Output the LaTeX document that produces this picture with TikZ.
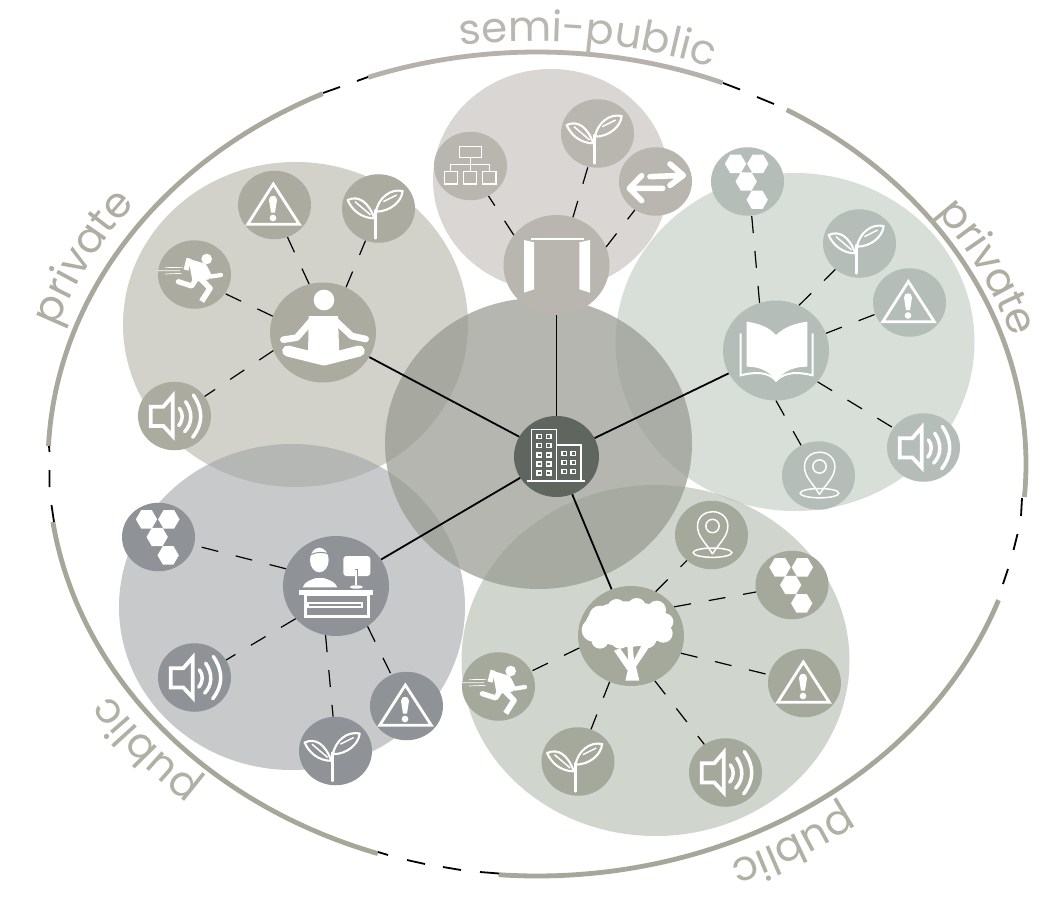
\documentclass[tikz,border=0pt]{standalone}
\usepackage{fontspec}
\usetikzlibrary{shapes.geometric,decorations.text}
\setmainfont{Poppins}
\newfontfamily\lblfont{Poppins}
\definecolor{tlc}{HTML}{ABAB9F}
\definecolor{topc}{HTML}{B9B5AF}
\definecolor{rc}{HTML}{B4BDB7}
\definecolor{blc}{HTML}{8F9296}
\definecolor{brc}{HTML}{A5A99B}
\definecolor{hubc}{HTML}{5F665F}
\definecolor{bigtl}{HTML}{B4B4A7}
\definecolor{bigtop}{HTML}{C0BCB6}
\definecolor{bigr}{HTML}{BECAC1}
\definecolor{bigbl}{HTML}{A3A6A8}
\definecolor{bigbr}{HTML}{B1B9AD}
\definecolor{bigc}{HTML}{96988F}
\definecolor{arcA}{HTML}{A8A89C}
\definecolor{arcB}{HTML}{B6B2AB}
\definecolor{arcC}{HTML}{A9A99E}
\definecolor{arcD}{HTML}{A3A898}
\definecolor{lblA}{HTML}{AEAEA3}
\definecolor{lblB}{HTML}{BAB7B0}
\definecolor{lblD}{HTML}{AEB2A4}
\newcommand{\outerarc}[3]{\draw[outerline,#3] plot[domain=#1:#2,samples=90] ({537+489*cos(\x)},{464+412*sin(\x)});}
\newcommand{\curvedlabel}[6]{\path[postaction={decorate},decoration={text along path,text align={left},text={|\lblfont\fontsize{42}{42}\selectfont\color{#6}|#5}}] plot[domain=#1:#2,samples=90] ({537+#3*cos(\x)},{464+#4*sin(\x)});}
\tikzset{
  bigdisc/.style={ellipse,inner sep=0pt,opacity=.6,draw=none},
  leaf/.style={ellipse,inner sep=0pt,minimum width=73pt,minimum height=68.5pt,draw=none},
  hub/.style={ellipse,inner sep=0pt,minimum width=106pt,minimum height=100pt,draw=none},
  outerline/.style={line width=4.8pt,line cap=butt},
  blackdash/.style={black,line width=1.8pt},
  solidlink/.style={black,line width=1.8pt},
  dashlink/.style={black,line width=1.2pt,dash pattern=on 17pt off 18pt},
  warnicon/.pic={\begin{scope}[x=.3333pt,y=-.3333pt,shift={(-463.5,-135)}]
    \draw[white,line width=2.8pt] (460,72)--(538,193)--(383,193)--cycle;
    \fill[white] (447,120) .. controls (447,103) and (471,103) .. (471,120) -- (465,158) -- (453,158) -- cycle;
    \fill[white] (459,174) circle [radius=10];
  \end{scope}},
  planticon/.pic={\begin{scope}[x=.3333pt,y=-.3333pt,shift={(-775.5,-145.5)}]
    \draw[white,line width=2.7pt,line cap=round] (767,235)--(767,150);
    \draw[white,line width=2.1pt,line join=round] (763,175) .. controls (745,125) and (715,105) .. (683,120) .. controls (695,150) and (725,175) .. (763,175);
    \draw[white,line width=2.1pt,line join=round] (768,155) .. controls (775,115) and (810,85) .. (848,93) .. controls (845,125) and (810,155) .. (768,155);
    \draw[white,line width=1.5pt] (705,125)--(752,165) (790,125)--(830,105);
  \end{scope}},
  speakericon/.pic={\begin{scope}[x=.3333pt,y=-.3333pt,shift={(-163.5,-768)}]
    \draw[white,line width=3.8pt,line join=miter] (92,740)--(130,740)--(158,708)--(158,828)--(130,798)--(92,798)--cycle;
    \draw[white,line width=3.5pt,line cap=round] (178,745) .. controls (190,760) and (190,780) .. (176,797);
    \draw[white,line width=3.5pt,line cap=round] (197,725) .. controls (218,755) and (218,790) .. (194,815);
    \draw[white,line width=3.5pt,line cap=round] (220,705) .. controls (250,750) and (250,790) .. (218,832);
  \end{scope}},
  runnericon/.pic={\begin{scope}[x=.3333pt,y=-.3333pt,shift={(-223.5,-343.5)}]
    \fill[white] (260,297) circle [radius=16];
    \fill[white] (205,296)--(258,312)--(268,358)--(218,366)--cycle;
    \draw[white,line width=5pt,line join=round] (207,295)--(198,330);
    \draw[white,line width=4.2pt,line join=round,line cap=round] (256,322)--(270,350)--(303,345);
    \draw[white,line width=5.6pt,line join=round] (238,352)--(270,385)--(245,424);
    \draw[white,line width=5.2pt,line join=round,line cap=round] (230,355)--(215,378)--(175,365);
    \draw[white,line width=.7pt] (135,323)--(188,322) (112,332)--(180,332) (135,342)--(185,340);
  \end{scope}},
  hexicon/.pic={\begin{scope}[x=.3333pt,y=-.3333pt]
    \foreach \cx/\cy in {-36/-53,31/-53,-4/0,29/55}
      \fill[white] ({\cx+32},\cy)--({\cx+16},{\cy+27.5})--({\cx-16},{\cy+27.5})--({\cx-32},\cy)--({\cx-16},{\cy-27.5})--({\cx+16},{\cy-27.5})--cycle;
  \end{scope}},
  pinicon/.pic={\begin{scope}[x=.3333pt,y=-.3333pt,shift={(-754,-405)}]
    \draw[white,line width=1.5pt] (757,462) .. controls (735,425) and (712,410) .. (712,378) .. controls (712,350) and (735,335) .. (757,335) .. controls (780,335) and (803,350) .. (803,378) .. controls (803,410) and (780,425) .. (757,462);
    \draw[white,line width=1.5pt] (757,378) circle [radius=20];
    \draw[white,line width=1.5pt] (757,458) ellipse [x radius=58,y radius=14];
  \end{scope}},
  orgicon/.pic={\begin{scope}[x=.3333pt,y=-.3333pt,shift={(-151.5,-498)}]
    \draw[white,line width=1.2pt] (118,440) rectangle (185,472) (151,472)--(151,515) (92,515)--(92,493)--(208,493)--(208,515)
      (73,515) rectangle (112,552) (130,515) rectangle (170,552) (188,515) rectangle (228,552);
  \end{scope}},
  arrowicon/.pic={\begin{scope}[x=.3333pt,y=-.3333pt,shift={(-706.5,-544.5)}]
    \draw[white,line width=5.6pt,line cap=round,line join=round] (690,530)--(788,526) (750,492)--(790,526)--(750,556);
    \draw[white,line width=5.6pt,line cap=round,line join=round] (728,565)--(632,565) (665,527)--(628,565)--(665,602);
  \end{scope}},
  dooricon/.pic={\begin{scope}[x=.3333pt,y=-.3333pt,shift={(-409.5,-795)}]
    \fill[white] (312,720)--(342,727)--(342,868)--(312,878)--cycle;
    \fill[white] (510,720)--(478,727)--(478,868)--(510,878)--cycle;
    \draw[white,line width=1.3pt] (332,717)--(492,717);
  \end{scope}},
  meditateicon/.pic={\begin{scope}[x=.3333pt,y=-.3333pt,shift={(-609,-517.5)}]
    \fill[white] (612,420) circle [radius=31];
    \fill[white] (566,468)--(654,468)--(658,590)--(564,590)--cycle;
    \draw[white,line width=6.6pt,line join=round,line cap=round] (578,478)--(530,533)--(490,539);
    \draw[white,line width=6.6pt,line join=round,line cap=round] (642,478)--(695,528)--(737,537);
    \draw[white,line width=11pt,line join=round,line cap=round] (503,573)--(612,600)--(718,573);
  \end{scope}},
  bookicon/.pic={\begin{scope}[x=.3333pt,y=-.3333pt,shift={(-228,-631.5)}]
    \fill[white] (140,545) .. controls (175,550) and (205,560) .. (228,585) -- (228,722) .. controls (205,690) and (175,680) .. (140,680) -- cycle;
    \fill[white] (322,545) .. controls (285,550) and (255,560) .. (228,585) -- (228,722) .. controls (255,690) and (285,680) .. (322,680) -- cycle;
    \draw[white,line width=2pt] (122,580)--(122,706) .. controls (165,695) and (205,695) .. (228,722) .. controls (255,695) and (295,695) .. (338,706)--(338,580);
  \end{scope}},
  deskicon/.pic={\begin{scope}[x=.3333pt,y=-.3333pt,shift={(-678,-288)}]
    \fill[white] (628,210) ellipse [x radius=28,y radius=37];
    \draw[blc,line width=1pt] (600,195) .. controls (620,185) and (640,185) .. (656,192);
    \fill[white] (578,292) .. controls (585,272) and (605,270) .. (618,264) -- (640,264) .. controls (660,270) and (675,275) .. (682,292) -- cycle;
    \fill[white,rounded corners=3pt] (700,198) rectangle (781,258);
    \draw[blc,line width=3.6pt] (739,236)--(739,272);
    \draw[white,line width=2pt] (739,240)--(739,285);
    \fill[white] (739,291) ellipse [x radius=20,y radius=5];
    \fill[white] (568,300) rectangle (790,314);
    \draw[white,line width=3pt] (585,313) rectangle (775,378);
    \draw[white,line width=1.8pt] (595,338) rectangle (757,352);
  \end{scope}},
  treeicon/.pic={\begin{scope}[x=.3333pt,y=-.3333pt,shift={(-513,-708)}]
    \fill[white] (505,672) ellipse [x radius=128,y radius=68];
    \foreach \cx/\cy/\cr in {400/690/35,420/650/33,470/625/28,530/622/28,590/630/28,615/665/25,610/700/28,560/715/30,510/715/28,480/718/28,420/720/26}
      \fill[white] (\cx,\cy) circle [radius=\cr];
    \fill[white] (496,842)--(538,842)--(528,800)--(565,745)--(545,735)--(522,780)--(518,735)--(502,735)--(505,780)--(480,745)--(462,752)--(503,812)--cycle;
  \end{scope}},
  cityicon/.pic={\begin{scope}[x=.3333pt,y=-.3333pt,shift={(-289.5,-169.5)}]
    \draw[white,line width=1.4pt] (200,243)--(375,243) (215,243)--(215,88)--(290,88)--(290,243) (290,135)--(363,135)--(363,243);
    \foreach \wx in {238,266}\foreach \wy in {110,137,165,192,219}
      \draw[white,line width=1.2pt] ({\wx-7},{\wy-6}) rectangle ({\wx+7},{\wy+6});
    \foreach \wx in {313,340}\foreach \wy in {161,188,215}
      \draw[white,line width=1.2pt] ({\wx-7},{\wy-6}) rectangle ({\wx+7},{\wy+6});
  \end{scope}},
}
\begin{document}
\begin{tikzpicture}[x=1pt,y=-1pt]
\useasboundingbox (0,0) rectangle (1062,912);
\fill[white] (0,0) rectangle (1062,912);
% large discs
\node[bigdisc,fill=bigtop,minimum width=236pt,minimum height=222pt] (discT) at (551,180) {};
\node[bigdisc,fill=bigtl,minimum width=345pt,minimum height=325pt] (discTL) at (295.5,324.5) {};
\node[bigdisc,fill=bigr,minimum width=359pt,minimum height=338pt] (discR) at (795,342) {};
\node[bigdisc,fill=bigbl,minimum width=346pt,minimum height=326pt] (discBL) at (292,607) {};
\node[bigdisc,fill=bigbr,minimum width=388pt,minimum height=351pt] (discBR) at (655.5,660.5) {};
\node[bigdisc,fill=bigc,opacity=.7,minimum width=307pt,minimum height=291pt] (discC) at (538.5,443.5) {};
% outer ring
\outerarc{182.5}{244}{arcA}
\outerarc{249.8}{292.3}{arcB}
\outerarc{300.7}{364.6}{arcC}
\outerarc{379.3}{454.5}{arcD}
\outerarc{469}{531.9}{arcD}
\draw[blackdash] (49,446)--(49.5,452) (49.5,470)--(49.5,487) (51.5,505)--(54,522);
\draw[blackdash] (1022,498)--(1021,516) (1017.5,534)--(1013.5,550) (1008,569)--(1003,584);
\draw[blackdash] (378,852)--(388,855) (407,860)--(425,864) (443,867)--(461,870) (480,872)--(499,873.5);
\draw[blackdash] (323,93)--(340,87) (357,81)--(368,77);
\draw[blackdash] (723,83)--(740,89.5) (757,97)--(774,104);
% labels
\curvedlabel{198.5}{262}{506}{429}{private}{lblA}
\curvedlabel{261.2}{315}{501}{423}{semi-public}{lblB}
\curvedlabel{323.3}{385}{498}{421}{private}{lblA}
\curvedlabel{131.5}{175}{506}{429}{public}{lblD}
\curvedlabel{52.5}{100}{507}{430}{public}{lblD}
% hubs
\node[hub,fill=tlc] (hTL) at (323,332.5) {};
\node[hub,fill=topc] (hT) at (556.5,265) {};
\node[hub,fill=rc] (hR) at (776,350.5) {};
\node[hub,fill=blc] (hBL) at (336,586) {};
\node[hub,fill=brc] (hBR) at (631,636) {};
\node[ellipse,inner sep=0pt,minimum width=85pt,minimum height=81pt,fill=hubc] (hC) at (556.5,456.5) {};
% leaves
\node[leaf,fill=tlc] (tlW) at (274.5,205) {};
\node[leaf,fill=tlc] (tlP) at (378.5,208.5) {};
\node[leaf,fill=tlc] (tlR) at (194.5,274.5) {};
\node[leaf,fill=tlc] (tlS) at (174.5,416) {};
\node[leaf,fill=topc] (tO) at (470.5,166) {};
\node[leaf,fill=topc] (tP) at (597.5,133.5) {};
\node[leaf,fill=topc] (tA) at (655.5,181.5) {};
\node[leaf,fill=rc] (rH) at (747.5,181.5) {};
\node[leaf,fill=rc] (rP) at (859.5,243.5) {};
\node[leaf,fill=rc] (rW) at (909.5,302.5) {};
\node[leaf,fill=rc] (rS) at (923.5,447.5) {};
\node[leaf,fill=rc] (rN) at (818.5,475.5) {};
\node[leaf,fill=blc] (blH) at (158.5,537) {};
\node[leaf,fill=blc] (blS) at (194.5,677.5) {};
\node[leaf,fill=blc] (blP) at (335.5,751) {};
\node[leaf,fill=blc] (blW) at (406.5,706) {};
\node[leaf,fill=brc] (brN) at (711.5,535) {};
\node[leaf,fill=brc] (brH) at (792,585) {};
\node[leaf,fill=brc] (brW) at (804.5,683) {};
\node[leaf,fill=brc] (brS) at (725.5,772.5) {};
\node[leaf,fill=brc] (brP) at (578,761.5) {};
\node[leaf,fill=brc] (brR) at (498.5,686.5) {};
% solid links
\draw[solidlink] (hC) -- (hTL);
\draw[solidlink] (hC) -- (hT);
\draw[solidlink] (hC) -- (hR);
\draw[solidlink] (hC) -- (hBL);
\draw[solidlink] (hC) -- (hBR);
% dashed links
\draw[dashlink] (hTL.106) -- (tlW.-68);
\draw[dashlink] (hTL.63.6) -- (tlP.-112);
\draw[dashlink] (hTL.162) -- (tlR.-32.7);
\draw[dashlink] (hTL.200) -- (tlS.33);
\draw[dashlink] (hT.145) -- (tO.-59);
\draw[dashlink] (hT.71) -- (tP.-106.5);
\draw[dashlink] (hT.20) -- (tA.-126);
\draw[dashlink] (hR.109) -- (rH.-83);
\draw[dashlink] (hR.63) -- (rP.-133.5);
\draw[dashlink] (hR.19.6) -- (rW.199);
\draw[dashlink] (hR.-37.6) -- (rS.147.7);
\draw[dashlink] (hR.-90) -- (rN.120);
\draw[dashlink] (hBL.161) -- (blH.-13.5);
\draw[dashlink] (hBL.219) -- (blS.29);
\draw[dashlink] (hBL.258.6) -- (blP.94.7);
\draw[dashlink] (hBL.-52) -- (blW.116.5);
\draw[dashlink] (hBR.61.6) -- (brN.-134.8);
\draw[dashlink] (hBR.34.7) -- (brH.-169);
\draw[dashlink] (hBR.-19.8) -- (brW.167.4);
\draw[dashlink] (hBR.-62.3) -- (brS.127);
\draw[dashlink] (hBR.245.5) -- (brP.68.6);
\draw[dashlink] (hBR.193.4) -- (brR.25.5);
% icons
\pic at (hTL) {meditateicon};
\pic at (hT) {dooricon};
\pic at (hR) {bookicon};
\pic at (hBL) {deskicon};
\pic at (hBR) {treeicon};
\pic at (hC) {cityicon};
\pic at (tlW) {warnicon};
\pic at (tlP) {planticon};
\pic at (tlR) {runnericon};
\pic at (tlS) {speakericon};
\pic at (tO) {orgicon};
\pic at (tP) {planticon};
\pic at (tA) {arrowicon};
\pic at (rH) {hexicon};
\pic at (rP) {planticon};
\pic at (rW) {warnicon};
\pic at (rS) {speakericon};
\pic at (rN) {pinicon};
\pic at (blH) {hexicon};
\pic at (blS) {speakericon};
\pic at (blP) {planticon};
\pic at (blW) {warnicon};
\pic at (brN) {pinicon};
\pic at (brH) {hexicon};
\pic at (brW) {warnicon};
\pic at (brS) {speakericon};
\pic at (brP) {planticon};
\pic at (brR) {runnericon};
\end{tikzpicture}
\end{document}
